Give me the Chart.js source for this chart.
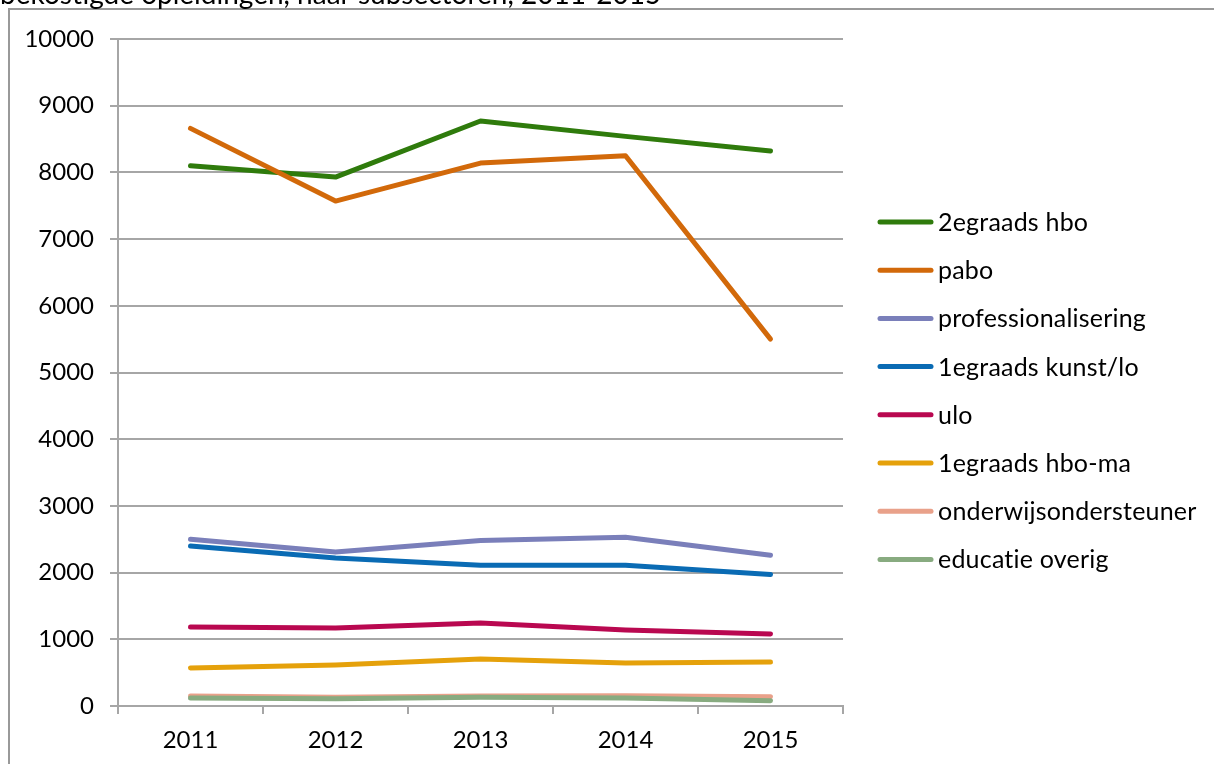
<!DOCTYPE html>
<html>
<head>
<meta charset="utf-8">
<script src="https://cdn.jsdelivr.net/npm/chart.js@4.4.0/dist/chart.umd.min.js"></script>
<style>
html,body{margin:0;padding:0;background:#fff;}
#wrap{width:1214px;height:764px;position:relative;}
</style>
</head>
<body>
<div id="wrap"><canvas id="c" width="1214" height="764"></canvas></div>
<script>
const titleText = "bekostigde opleidingen, naar subsectoren, 2011-2015";
const years = ["2011", "2012", "2013", "2014", "2015"];
const seriesNames = ["2egraads hbo", "pabo", "professionalisering", "1egraads kunst/lo", "ulo", "1egraads hbo-ma", "onderwijsondersteuner", "educatie overig"];
const hbo2 = [8100, 7930, 8770, 8540, 8320];
const pabo = [8660, 7570, 8140, 8250, 5500];
const prof = [2500, 2310, 2480, 2530, 2260];
const kunst1 = [2400, 2220, 2110, 2110, 1970];
const ulo = [1185, 1170, 1245, 1140, 1080];
const hboma1 = [570, 615, 705, 645, 660];
const ondst = [150, 130, 150, 155, 140];
const educ = [120, 110, 130, 120, 80];
const yTicks = [0, 1000, 2000, 3000, 4000, 5000, 6000, 7000, 8000, 9000, 10000];
const colors = ["#2F7B0C", "#D2690A", "#7A7FBA", "#0A6BB4", "#B90850", "#E5A10B", "#E9A18A", "#88AB80"];

const allSeries = [hbo2, pabo, prof, kunst1, ulo, hboma1, ondst, educ];
const FONT = "Lato, 'Open Sans', sans-serif";
const gridCol = "#a6a6a6";

const framePlugin = {
  id: 'frame',
  beforeDraw(chart) {
    const ctx = chart.ctx;
    ctx.save();
    ctx.fillStyle = '#fff';
    ctx.fillRect(0, 0, chart.width, chart.height);
    ctx.strokeStyle = '#999';
    ctx.lineWidth = 2;
    ctx.beginPath();
    ctx.moveTo(9, 770);
    ctx.lineTo(9, 9);
    ctx.lineTo(1220, 9);
    ctx.stroke();
    ctx.fillStyle = '#000';
    ctx.font = "28px " + FONT;
    ctx.textBaseline = 'alphabetic';
    ctx.textAlign = 'left';
    ctx.fillText(titleText, 0, 4);
    ctx.restore();
  },
  afterDraw(chart) {
    const ctx = chart.ctx;
    ctx.save();
    const ds = chart.data.datasets;
    ctx.font = "25px " + FONT;
    try { ctx.letterSpacing = '0.2px'; } catch (e) {}
    ctx.textBaseline = 'middle';
    ctx.textAlign = 'left';
    ds.forEach((d, i) => {
      const y = 222 + i * 48.2;
      ctx.strokeStyle = d.borderColor;
      ctx.lineWidth = 5;
      ctx.lineCap = 'round';
      ctx.beginPath();
      ctx.moveTo(880, y);
      ctx.lineTo(931, y);
      ctx.stroke();
      ctx.fillStyle = '#000';
      ctx.fillText(d.label, 938, y + 1);
    });
    ctx.restore();
  }
};

new Chart(document.getElementById('c'), {
  type: 'line',
  data: {
    labels: years,
    datasets: seriesNames.map((n, i) => ({
      label: n,
      data: allSeries[i],
      borderColor: colors[i],
      backgroundColor: colors[i],
      borderWidth: 5,
      pointRadius: 0,
      tension: 0,
      borderCapStyle: 'round',
      borderJoinStyle: 'round',
      order: seriesNames.length - i
    }))
  },
  options: {
    responsive: false,
    animation: false,
    devicePixelRatio: 1,
    layout: { padding: { left: 0, top: 39, right: 371, bottom: 0 } },
    plugins: { legend: { display: false }, tooltip: { enabled: false }, title: { display: false } },
    scales: {
      x: {
        offset: true,
        grid: { offset: true, drawOnChartArea: false, drawTicks: true, tickLength: 8, color: gridCol, lineWidth: 2 },
        border: { display: true, color: gridCol, width: 2 },
        ticks: { color: '#000', font: { family: FONT, size: 24 }, padding: 12, maxRotation: 0 },
        afterFit(s) { s.height = 58; }
      },
      y: {
        min: 0, max: 10000,
        afterBuildTicks(s) { s.ticks = yTicks.map(v => ({ value: v })); },
        grid: { drawOnChartArea: true, drawTicks: true, tickLength: 8, color: gridCol, lineWidth: 2 },
        border: { display: true, color: gridCol, width: 2 },
        ticks: { color: '#000', font: { family: FONT, size: 24 }, padding: 16, callback: v => String(v) },
        afterFit(s) { s.width = 118; }
      }
    }
  },
  plugins: [framePlugin]
});
</script>
</body>
</html>
